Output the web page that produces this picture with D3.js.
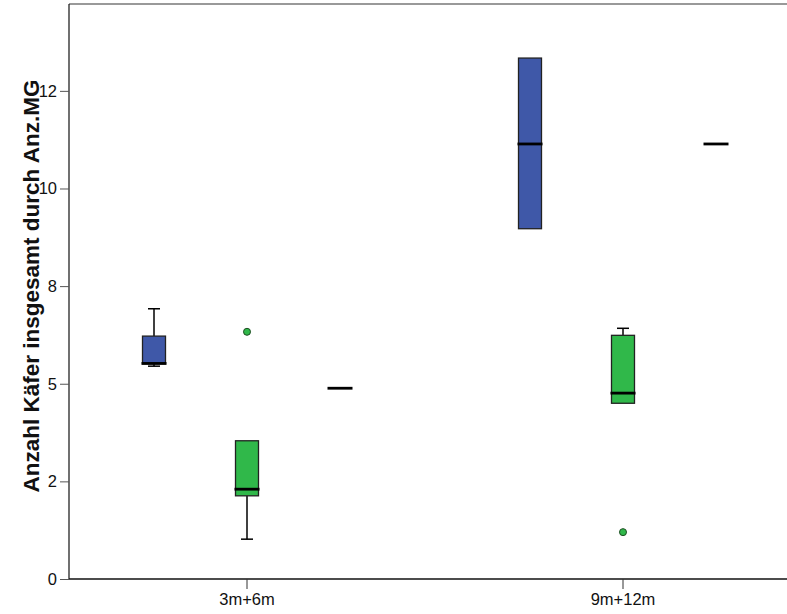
<!DOCTYPE html>
<html>
<head>
<meta charset="utf-8">
<script src="https://cdn.jsdelivr.net/npm/d3@7/dist/d3.min.js"></script>
<style>
  html, body { margin: 0; padding: 0; background: #fff; }
  svg { display: block; font-family: "Liberation Sans", Arial, sans-serif; }
</style>
</head>
<body>
<svg id="chart" width="787" height="614"></svg>
<script>
// ---- data ----
const categories = ["3m+6m", "9m+12m"];
const seriesNames = ["Gruppe 1", "Gruppe 2", "Gruppe 3"];
const seriesColors = ["#3f58a8", "#30b84a", "#9a9a9a"];
const minVals    = [[5.45, 8.97], [1.02, 4.50], [4.885, 11.14]];
const q1Vals     = [[5.51, 8.97], [2.13, 4.50], [4.885, 11.14]];
const medianVals = [[5.52, 11.14], [2.30, 4.76], [4.885, 11.14]];
const q3Vals     = [[6.22, 13.34], [3.54, 6.24], [4.885, 11.14]];
const maxVals    = [[6.92, 13.34], [3.54, 6.42], [4.885, 11.14]];
const outlierVals = [[[], []], [[6.33], [1.20]], [[], []]];
const yTickValues = [0, 2.5, 5, 7.5, 10, 12.5];
const yTickLabels = ["0", "2", "5", "8", "10", "12"];
const yTitle = "Anzahl Käfer insgesamt durch Anz.MG";

// ---- layout ----
const svg = d3.select("#chart");
const W = 787, H = 614;
const mLeft = 69, mTop = 4, mBottom = 579;

const y = d3.scaleLinear().domain([0, 14.75]).range([mBottom, 3]);
const x = d3.scaleBand().domain(categories).range([59, 811]).padding(0);
const sub = d3.scaleBand().domain(seriesNames).range([-139.5, 139.5]).padding(0);

const boxW = 23, capW = 12;

// frame: top border
svg.append("line").attr("x1", mLeft).attr("x2", W).attr("y1", mTop).attr("y2", mTop)
  .attr("stroke", "#777").attr("stroke-width", 1.5);

// y axis
const yAxis = d3.axisLeft(y).tickValues(yTickValues)
  .tickFormat((d, i) => yTickLabels[i]).tickSize(9).tickPadding(3);
const gy = svg.append("g").attr("transform", `translate(${mLeft},0)`).call(yAxis);
gy.select(".domain").attr("d", `M0,${mTop}V${mBottom}`).attr("stroke", "#111").attr("stroke-width", 1.2);
gy.selectAll(".tick line").attr("stroke", "#555");
gy.selectAll(".tick text").attr("font-size", 16.5).attr("fill", "#111")
  .attr("font-family", "'Liberation Sans', Arial, sans-serif");

// x axis
const xAxis = d3.axisBottom(x).tickSize(10).tickPadding(4);
const gx = svg.append("g").attr("transform", `translate(0,${mBottom})`).call(xAxis);
gx.select(".domain").attr("d", `M${mLeft},0H${W}`).attr("stroke", "#111").attr("stroke-width", 1.5);
gx.selectAll(".tick line").attr("stroke", "#333");
gx.selectAll(".tick text").attr("font-size", 16.5).attr("fill", "#111")
  .attr("font-family", "'Liberation Sans', Arial, sans-serif");

// y title
svg.append("text")
  .attr("transform", `translate(39,286) rotate(-90)`)
  .attr("text-anchor", "middle")
  .attr("font-size", 22.5).attr("font-weight", "bold").attr("fill", "#111")
  .text(yTitle);

// boxes
const plot = svg.append("g");
seriesNames.forEach((s, si) => {
  categories.forEach((c, ci) => {
    const cx = x(c) + x.bandwidth() / 2 + sub(s) + sub.bandwidth() / 2;
    const mn = minVals[si][ci], q1 = q1Vals[si][ci], md = medianVals[si][ci],
          q3 = q3Vals[si][ci], mx = maxVals[si][ci];
    const g = plot.append("g");
    if (mx > q3) {
      g.append("line").attr("x1", cx).attr("x2", cx).attr("y1", y(q3)).attr("y2", y(mx))
        .attr("stroke", "#000").attr("stroke-width", 1.5);
      g.append("line").attr("x1", cx - capW / 2).attr("x2", cx + capW / 2)
        .attr("y1", y(mx)).attr("y2", y(mx)).attr("stroke", "#000").attr("stroke-width", 1.5);
    }
    if (mn < q1) {
      g.append("line").attr("x1", cx).attr("x2", cx).attr("y1", y(q1)).attr("y2", y(mn))
        .attr("stroke", "#000").attr("stroke-width", 1.5);
      g.append("line").attr("x1", cx - capW / 2).attr("x2", cx + capW / 2)
        .attr("y1", y(mn)).attr("y2", y(mn)).attr("stroke", "#000").attr("stroke-width", 1.5);
    }
    if (q3 > q1) {
      g.append("rect").attr("x", cx - boxW / 2).attr("y", y(q3))
        .attr("width", boxW).attr("height", y(q1) - y(q3))
        .attr("fill", seriesColors[si]).attr("stroke", "#222").attr("stroke-width", 1.3);
    }
    g.append("line").attr("x1", cx - boxW / 2 - 1).attr("x2", cx + boxW / 2 + 1)
      .attr("y1", y(md)).attr("y2", y(md)).attr("stroke", "#000").attr("stroke-width", 2.8);
    outlierVals[si][ci].forEach(v => {
      g.append("circle").attr("cx", cx).attr("cy", y(v)).attr("r", 3.5)
        .attr("fill", seriesColors[si]).attr("stroke", "#1d4d22").attr("stroke-width", 1);
    });
  });
});
</script>
</body>
</html>
